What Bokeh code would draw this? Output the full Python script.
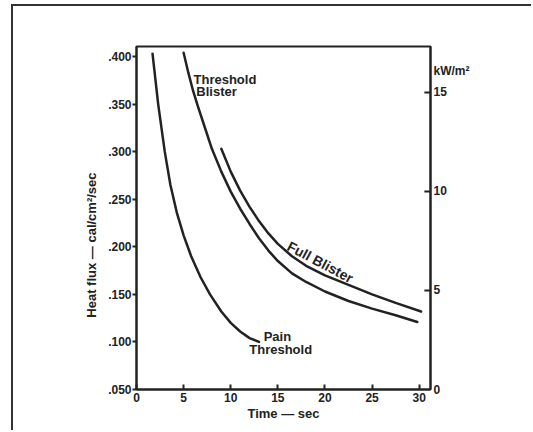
from bokeh.plotting import figure
from bokeh.models import Range1d, LinearAxis, FixedTicker, Label
from bokeh.embed import file_html
from bokeh.resources import INLINE

# ---- data ----
pain_t = [1.7, 2.3, 3.0, 3.6, 4.3, 5.0, 5.8, 6.8, 7.8, 9.0, 10.0, 11.0, 12.0, 13.0]
pain_f = [0.403, 0.350, 0.300, 0.265, 0.235, 0.212, 0.190, 0.168, 0.150, 0.132, 0.120, 0.111, 0.104, 0.100]

tblister_t = [5.0, 5.5, 6.0, 6.5, 7.0, 7.5, 8.0, 9.0, 10.0, 11.0, 12.0, 13.0, 14.0, 15.0,
              16.5, 18.0, 20.0, 22.5, 25.0, 27.5, 29.8]
tblister_f = [0.404, 0.383, 0.364, 0.348, 0.333, 0.318, 0.303, 0.279, 0.258, 0.240, 0.224, 0.209,
              0.196, 0.185, 0.172, 0.163, 0.153, 0.143, 0.135, 0.128, 0.121]

fblister_t = [9.0, 10.0, 11.0, 12.0, 13.0, 14.0, 15.0, 16.5, 18.0, 20.0, 22.5, 25.0, 27.5, 30.2]
fblister_f = [0.303, 0.279, 0.259, 0.242, 0.227, 0.214, 0.203, 0.190, 0.180, 0.170, 0.160, 0.150, 0.141, 0.132]

x_ticks = [0, 5, 10, 15, 20, 25, 30]
y_ticks = [0.05, 0.1, 0.15, 0.2, 0.25, 0.3, 0.35, 0.4]
y_tick_labels = [".050", ".100", ".150", ".200", ".250", ".300", ".350", ".400"]
kw_ticks = [0, 5, 10, 15]
kw_unit_pos = 16.1
kw_unit = "kW/m\u00b2"

INK = "#222222"
FONT = "Liberation Sans"

p = figure(width=520, height=426, x_range=Range1d(0, 31.2), y_range=Range1d(0.05, 0.4105),
           output_backend="svg", toolbar_location=None,
           min_border_left=123, min_border_right=103, min_border_top=40, min_border_bottom=43,
           styles={"border-left": "2px solid #333", "border-top": "2px solid #333",
                   "margin-left": "11px", "margin-top": "4px"})
p.xgrid.visible = False
p.ygrid.visible = False
p.outline_line_color = INK
p.outline_line_width = 2
p.background_fill_color = "white"
p.border_fill_color = "white"

def style_axis(ax):
    ax.minor_tick_line_color = None
    ax.axis_line_width = 2
    ax.axis_line_color = INK
    ax.major_tick_line_color = INK
    ax.major_tick_line_width = 2
    ax.major_label_text_font = FONT
    ax.major_label_text_font_style = "bold"
    ax.major_label_text_font_size = "12px"
    ax.major_label_text_color = INK
    ax.axis_label_text_font = FONT
    ax.axis_label_text_font_style = "bold"
    ax.axis_label_text_font_size = "13px"
    ax.axis_label_text_color = INK

# left axis
ya = p.yaxis[0]
style_axis(ya)
ya.ticker = FixedTicker(ticks=y_ticks)
ya.major_label_overrides = dict(zip(y_ticks, y_tick_labels))
ya.major_tick_out = 4
ya.major_tick_in = 0
ya.major_label_standoff = 1
ya.axis_label = "Heat flux \u2014 cal/cm\u00b2/sec" + "\u00a0" * 15
ya.axis_label_standoff = 6

# bottom axis
xa = p.xaxis[0]
style_axis(xa)
xa.ticker = FixedTicker(ticks=x_ticks)
xa.major_tick_in = 5
xa.major_tick_out = 0
xa.major_label_standoff = 3
xa.axis_label = "Time \u2014 sec"
xa.axis_label_standoff = 1

# right axis in kW/m2 (unit written as the top label, tick marks drawn inward below)
p.extra_y_ranges = {"kw": Range1d(0, 17.32)}
ra = LinearAxis(y_range_name="kw", ticker=FixedTicker(ticks=kw_ticks + [kw_unit_pos]))
style_axis(ra)
ra.major_label_overrides = {kw_unit_pos: kw_unit}
ra.major_tick_in = 0
ra.major_tick_out = 0
ra.major_label_standoff = 3
p.add_layout(ra, "right")
p.segment(x0=30.55, x1=31.2, y0=kw_ticks[1:], y1=kw_ticks[1:], y_range_name="kw",
          line_color=INK, line_width=2)

# curves
for xs, ys in [(pain_t, pain_f), (tblister_t, tblister_f), (fblister_t, fblister_f)]:
    p.line(xs, ys, line_color=INK, line_width=2.5, line_join="round", line_cap="round")

def lab(x, y, text, size="13px", align="left", angle=0.0):
    p.add_layout(Label(x=x, y=y, text=text, text_font=FONT, text_font_style="bold",
                       text_font_size=size, text_color=INK, text_align=align,
                       text_baseline="middle", angle=angle))

lab(6.05, 0.376, "Threshold")
lab(6.35, 0.3635, "Blister")
lab(14.95, 0.106, "Pain", align="center")
lab(15.3, 0.0925, "Threshold", align="center")
lab(19.5, 0.184, "Full Blister", size="14px", align="center", angle=-0.49)

open("out.html", "w").write(file_html(p, INLINE))
